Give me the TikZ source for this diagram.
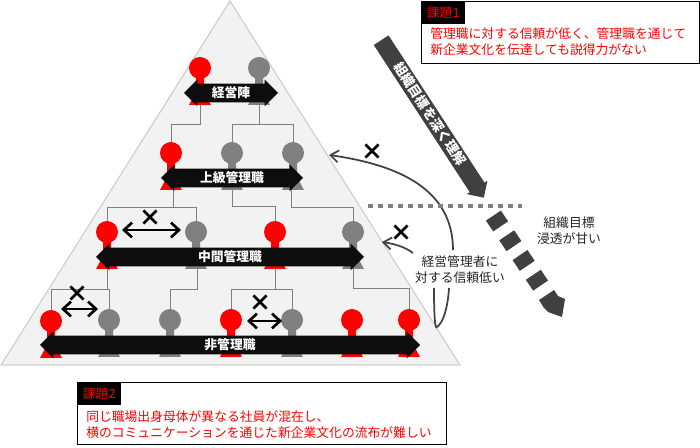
\documentclass[tikz,border=0pt]{standalone}
\usepackage{fontspec}
\usepackage{xcolor}
\setmainfont{Noto Sans CJK JP}
\usetikzlibrary{arrows.meta,shapes.arrows,shapes.misc}

\definecolor{tribg}{HTML}{F2F2F2}
\definecolor{triline}{HTML}{D0D0D0}
\definecolor{barfill}{HTML}{0D0D0D}
\definecolor{darkarrow}{HTML}{404040}
\definecolor{staff}{HTML}{808080}

\newcommand{\txt}{\fontsize{9.6}{12}\selectfont}

\tikzset{
	head/.style={circle,minimum size=16.5pt,inner sep=0pt},
	link/.style={draw=staff,line width=0.7pt},
	bar/.style={double arrow,double arrow head extend=3pt,double arrow tip angle=90,fill=barfill,text height=10.2pt,text depth=3.3pt,inner sep=0pt,text=white,font=\txt\bfseries},
	talk/.style={<->,>={Straight Barb[length=6pt,width=11pt]},line width=2pt,black},
	curve/.style={draw=darkarrow,line width=1.3pt},
	xmark/.style={cross out,draw=black,line width=1.9pt,minimum size=8pt,inner sep=0pt},
	note/.style={draw=black,line width=1.1pt,fill=white,minimum width=#1,minimum height=46.5pt,inner sep=0pt,anchor=north west},
	tag/.style={fill=black,text=red,minimum width=33pt,minimum height=17pt,inner sep=0pt,font=\txt,anchor=north west},
	redtext/.style={text=red,font=\txt,align=left,inner sep=0pt,anchor=north west},
	plain/.style={font=\txt,align=center,inner sep=0pt,text=black!85}
}

\newcommand{\person}[4]{
	\fill[#4] (#2-4,#3+10) -- (#2+4,#3+10) -- (#2+4,#3+24) -- (#2+11,#3+37) -- (#2-11,#3+37) -- (#2-4,#3+24) -- cycle;
	\node[head,fill=#4] (#1) at (#2,#3) {};
	\coordinate (#1-b) at (#2,#3+37);
}

\begin{document}
\begin{tikzpicture}[x=0.75pt,y=-0.75pt]
	\useasboundingbox (0,0) rectangle (700,448);
	
	\fill[tribg] (230,1) -- (460,365) -- (1,365) -- cycle;
	\draw[triline,line width=0.9pt] (230,1) -- (460,365) -- (1,365) -- cycle;
	
	\person{top1}{200}{68}{red}
	\person{top2}{259}{68}{staff}
	
	\person{sen1}{171}{153}{red}
	\person{sen2}{232}{153}{staff}
	\person{sen3}{293}{153}{staff}
	
	\person{mid1}{107}{232}{red}
	\person{mid2}{196}{232}{staff}
	\person{mid3}{275}{232}{red}
	\person{mid4}{353}{232}{staff}
	
	\person{emp1}{51}{321}{red}
	\person{emp2}{109}{320}{staff}
	\person{emp3}{170}{320}{staff}
	\person{emp4}{231}{320}{red}
	\person{emp5}{292}{320}{staff}
	\person{emp6}{352}{320}{red}
	\person{emp7}{409}{320}{red}
	
	\coordinate (j1) at (200,124);
	\coordinate (j2) at (259,124);
	\coordinate (j3) at (173,207);
	\coordinate (j4) at (232,206);
	\coordinate (j5) at (291,207);
	\coordinate (j6) at (107,289);
	\coordinate (j7) at (197,289);
	\coordinate (j8) at (275,289);
	\coordinate (j9) at (353,288);
	
	\draw[link] (top1-b) -- (j1) -| (sen1);
	\draw[link] (top2-b) -- (j2) -| (sen2);
	\draw[link] (j2) -| (sen3);
	\draw[link] (j3 |- sen1-b) -- (j3) -| (mid1);
	\draw[link] (j3) -| (mid2);
	\draw[link] (sen2-b) -- (j4) -| (mid3);
	\draw[link] (j5 |- sen3-b) -- (j5) -| (mid4);
	\draw[link] (mid1-b) -- (j6) -| (emp1);
	\draw[link] (j6) -| (emp2);
	\draw[link] (j7 |- mid2-b) -- (j7) -| (emp3);
	\draw[link] (mid3-b) -- (j8) -| (emp4);
	\draw[link] (j8) -| (emp5);
	\draw[link] (mid4-b) -- (j9) -| (emp7);
	
	\node[bar,minimum height=70.5pt] (rank1) at (231,93) {経営陣};
	\node[bar,minimum height=106.5pt] (rank2) at (232,178) {上級管理職};
	\node[bar,minimum height=201pt] (rank3) at (230,257) {中間管理職};
	\node[bar,minimum height=285pt] (rank4) at (230,345) {非管理職};
	
	\coordinate (a1) at (122,230);
	\coordinate (a2) at (181,230);
	\coordinate (b1) at (61,309);
	\coordinate (b2) at (98,309);
	\coordinate (c1) at (247,321);
	\coordinate (c2) at (282,321);
	\draw[talk] (a1) -- (a2);
	\draw[talk] (b1) -- (b2);
	\draw[talk] (c1) -- (c2);
	
	\node[xmark] (x1) at (150,217) {};
	\node[xmark] (x2) at (77,293) {};
	\node[xmark] (x3) at (260,302) {};
	\node[xmark] (x4) at (372,151) {};
	\node[xmark] (x5) at (401,232) {};
	
	\node[plain] (trust) at (460,269.5) {経営管理者に\\対する信頼低い};
	\coordinate (t1) at (453,250);
	\coordinate (t2) at (413,253);
	\coordinate (t3) at (434,288);
	\coordinate (t4) at (449,288);
	\coordinate (t5) at (437,327);
	\coordinate (u1) at (329,155);
	\coordinate (u2) at (382,242);
	\draw[curve,->,>={Straight Barb[length=6pt,width=9pt]}] (t1) .. controls (453,190) and (400,165) .. (u1);
	\draw[curve,->,>={Straight Barb[length=6pt,width=9pt]}] (t2) .. controls (405,247) and (395,244) .. (u2);
	\draw[curve] (t3) .. controls (434,315) and (435,330) .. (t5) .. controls (444,322) and (448,305) .. (t4);
	
	\node[single arrow,single arrow head extend=2.6pt,single arrow tip angle=90,fill=darkarrow,text height=6.4pt,text depth=6.4pt,minimum height=141pt,inner sep=0pt,rotate=-56.9,anchor=tail] (goal) at (381,40) {};
	\node[rotate=-56.9,inner sep=0pt,text=white,font=\fontsize{10}{12}\selectfont\bfseries] (goaltext) at (430,114) {組織目標を深く理解};
	
	\draw[staff,line width=3.5pt,dash pattern=on 3.5pt off 4pt] (368,206) -- (522,206);
	
	\draw[darkarrow,line width=13.5pt,dash pattern=on 9.75pt off 8.1pt] (493.4,215.6) -- (540.6,285.6);
	\fill[darkarrow] (539,300) -- (554,290) -- (558,296) -- (565,299) -- (562,317) -- (548,312) -- (544,308) -- cycle;
	\node[plain] (weak) at (569,230.5) {組織目標\\浸透が甘い};
	
	\node[note=208.5pt] (box1) at (421,1) {};
	\node[tag] (tag1) at (421,1) {課題1};
	\node[redtext] (text1) at (430,27) {管理職に対する信頼が低く、管理職を通じて\\新企業文化を伝達しても説得力がない};
	
	\node[note=276.75pt] (box2) at (77,382) {};
	\node[tag] (tag2) at (77,382) {課題2};
	\node[redtext] (text2) at (86,410) {同じ職場出身母体が異なる社員が混在し、\\横のコミュニケーションを通じた新企業文化の流布が難しい};
\end{tikzpicture}
\end{document}
